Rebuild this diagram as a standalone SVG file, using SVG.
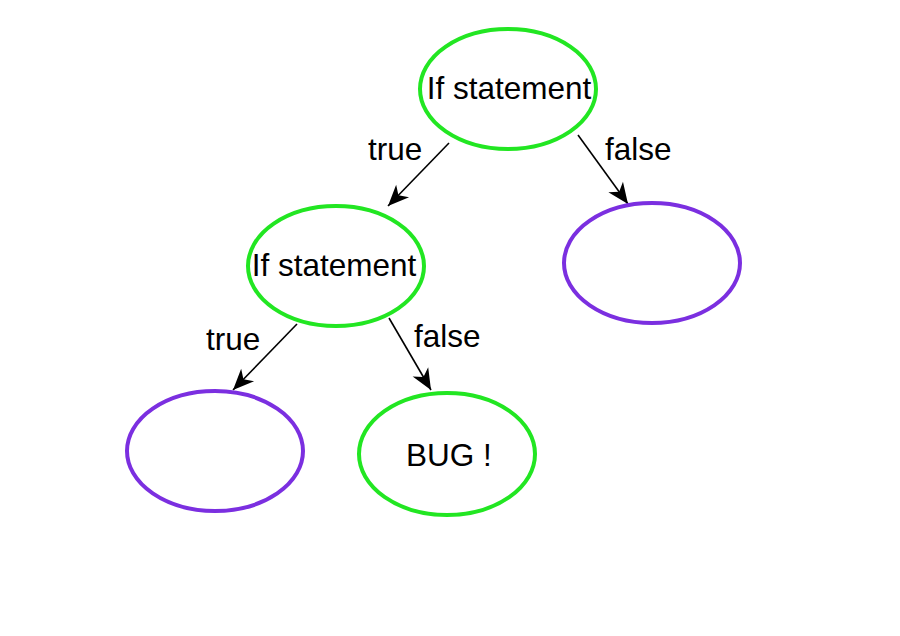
<svg xmlns="http://www.w3.org/2000/svg" width="900" height="636" viewBox="0 0 900 636">
<style>
.g{fill:none;stroke:#22e622;stroke-width:4}
.p{fill:none;stroke:#7b2fe0;stroke-width:4}
.t{font-family:"Liberation Sans",Arial,sans-serif;font-size:31.5px;fill:#000}
.c{stroke:#000;stroke-width:1.6;fill:none;marker-end:url(#ah)}
</style>
<defs>
<marker id="ah" markerUnits="userSpaceOnUse" viewBox="-22 -11 24 22" markerWidth="24" markerHeight="22" refX="0" refY="0" orient="auto">
<path d="M0,0 L-21,-9 L-15,0 L-21,9 Z" fill="#000"/>
</marker>
</defs>
<rect width="900" height="636" fill="#fff"/>
<g id="connectors">
<line class="c" x1="449" y1="143" x2="388" y2="206"/>
<line class="c" x1="578" y1="135" x2="628" y2="204"/>
<line class="c" x1="297" y1="324" x2="233" y2="390"/>
<line class="c" x1="389" y1="318" x2="431" y2="390"/>
<text class="t" x="368" y="160">true</text>
<text class="t" x="605" y="160">false</text>
<text class="t" x="206" y="350">true</text>
<text class="t" x="414" y="347">false</text>
</g>
<g id="n1">
<ellipse class="g" cx="508" cy="89" rx="88" ry="60"/>
<text class="t" x="509" y="99" text-anchor="middle">If statement</text>
</g>
<g id="n2">
<ellipse class="g" cx="336" cy="266" rx="88" ry="60"/>
<text class="t" x="334" y="276" text-anchor="middle">If statement</text>
</g>
<g id="n3">
<ellipse class="p" cx="652" cy="263" rx="88" ry="60"/>
</g>
<g id="n4">
<ellipse class="p" cx="215" cy="451" rx="88" ry="60"/>
</g>
<g id="n5">
<ellipse class="g" cx="447" cy="454" rx="88" ry="61"/>
<text class="t" x="449" y="466" text-anchor="middle">BUG !</text>
</g>
</svg>
